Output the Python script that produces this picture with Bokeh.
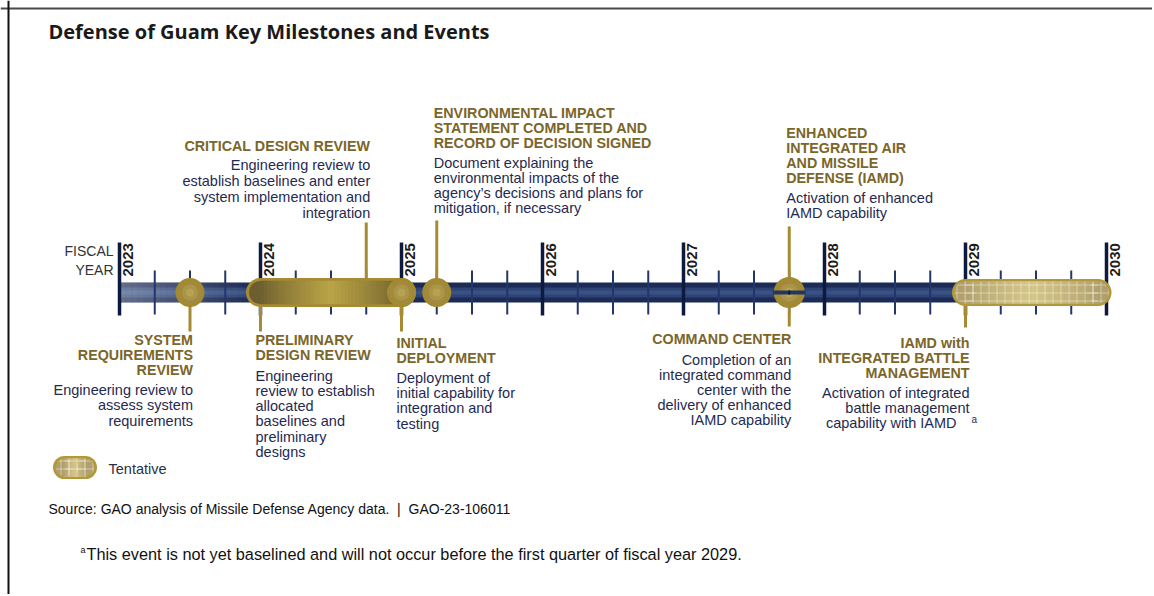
import numpy as np
from bokeh.plotting import figure
from bokeh.models import Range1d, Span
from bokeh.core.properties import value
from bokeh.embed import file_html
from bokeh.resources import INLINE

# ---------------- data ----------------
years = [2023, 2024, 2025, 2026, 2027, 2028, 2029, 2030]
year_labels = [str(y) for y in years]
quarter_ticks = [y + q for y in years[:-1] for q in (0.25, 0.5, 0.75)]

# single milestones (circles)
milestone_dates = [2023.5, 2025.0, 2025.25]
# split milestone (two events on same date)
split_dates = [2027.75]
# period bars
pdr_span = [2024.0, 2025.0]
tentative_span = [2029.0, 2029.94]

event_keys = ["SRR", "PDR", "CDR", "ID", "EIS", "EIAMD", "CC", "IBM"]
event_dates = [2023.5, 2024.0, 2024.75, 2025.0, 2025.25, 2027.75, 2027.75, 2029.0]
event_titles = [
    ["SYSTEM", "REQUIREMENTS", "REVIEW"],
    ["PRELIMINARY", "DESIGN REVIEW"],
    ["CRITICAL DESIGN REVIEW"],
    ["INITIAL", "DEPLOYMENT"],
    ["ENVIRONMENTAL IMPACT", "STATEMENT COMPLETED AND", "RECORD OF DECISION SIGNED"],
    ["ENHANCED", "INTEGRATED AIR", "AND MISSILE", "DEFENSE (IAMD)"],
    ["COMMAND CENTER"],
    ["IAMD with", "INTEGRATED BATTLE", "MANAGEMENT"],
]
event_descs = [
    ["Engineering review to", "assess system", "requirements"],
    ["Engineering", "review to establish", "allocated", "baselines and", "preliminary", "designs"],
    ["Engineering review to", "establish baselines and enter", "system implementation and", "integration"],
    ["Deployment of", "initial capability for", "integration and", "testing"],
    ["Document explaining the", "environmental impacts of the",
     "agency\u2019s decisions and plans for", "mitigation, if necessary"],
    ["Activation of enhanced", "IAMD capability"],
    ["Completion of an", "integrated command", "center with the", "delivery of enhanced", "IAMD capability"],
    ["Activation of integrated", "battle management", "capability with IAMD"],
]

title_text = "Defense of Guam Key Milestones and Events"
source_text = "Source: GAO analysis of Missile Defense Agency data.\u00a0\u00a0|\u00a0\u00a0GAO-23-106011"
note_text = "This event is not yet baselined and will not occur before the first quarter of fiscal year 2029."

# ---------------- layout / style ----------------
W, H = 1152, 594
PPY = 141.0                       # pixels per fiscal year
X0 = 2023 - 119 / PPY             # x-range start so 2023 sits at page x 119
X1 = X0 + W / PPY

def sx(page_x):
    return X0 + page_x / PPY

# per-event label layout: (align, x_offset, title_y0, title_lh, desc_y0, desc_lh, leader_end)
layout = {
    "SRR":   ("right",  3, 339, 15, 389, 15.5, 331),
    "PDR":   ("left",  -5, 339, 15, 375, 15.3, 331),
    "CDR":   ("right",  4, 145, 15, 164, 16.0, 222),
    "ID":    ("left",  -5, 342, 15, 377, 15.4, 331),
    "EIS":   ("left",  -3, 112, 15, 162, 15.0, 220),
    "EIAMD": ("left",  -3, 132, 15.3, 197, 15.0, 226),
    "CC":    ("right",  2, 338, 15, 359, 15.2, 326),
    "IBM":   ("right",  4, 342, 15, 392, 15.0, 327),
}

SANS = value("'Liberation Sans', Arial, sans-serif")
GOLD_TXT = "#7b6629"
NAVY_TXT = "#1f2a52"
GOLD = "#a68b34"
NAVY = "#1b2a57"
YC = 292

p = figure(width=W, height=H, x_range=Range1d(X0, X1), y_range=Range1d(H, 0),
           output_backend="svg", toolbar_location=None, min_border=0,
           background_fill_color="white", border_fill_color="white")
p.outline_line_color = None
p.axis.visible = False
p.grid.visible = False

# frame lines (top and left)
p.add_layout(Span(location=8, dimension="width", line_color="#4a4a4a", line_width=2))
p.add_layout(Span(location=sx(8), dimension="height", line_color="#111111", line_width=2))

def hex2rgb(h):
    h = h.lstrip("#")
    return np.array([int(h[i:i + 2], 16) for i in (0, 2, 4)], dtype=float)

def mix(c1, c2, t):
    c = hex2rgb(c1) * (1 - t) + hex2rgb(c2) * t
    return "#%02x%02x%02x" % tuple(int(round(v)) for v in c)

# ---------------- timeline bar ----------------
p.quad(left=years[0], right=years[-1], top=YC - 10, bottom=YC + 10, fill_color=NAVY, line_color=None)
p.quad(left=years[0], right=years[-1], top=YC - 5, bottom=YC + 5, fill_color="#2d4474", line_color=None)
p.quad(left=years[0], right=years[-1], top=YC - 2, bottom=YC + 2, fill_color="#3a5283", line_color=None)
# faded start of the bar (first fiscal year)
n = 24
edges = np.linspace(years[0], years[1], n + 1)
p.quad(left=edges[:-1], right=edges[1:], top=YC - 10, bottom=YC + 10,
       fill_color="white", fill_alpha=list(np.linspace(0.32, 0.0, n)), line_color=None)

# ticks
p.segment(x0=quarter_ticks, y0=[270] * len(quarter_ticks), x1=quarter_ticks, y1=[314] * len(quarter_ticks),
          line_color="#233669", line_width=2)
p.segment(x0=years, y0=[242] * len(years), x1=years, y1=[315] * len(years),
          line_color="#0d1a40", line_width=3.5)
p.text(x=years, y=[276] * len(years), text=year_labels, angle=np.pi / 2, x_offset=3,
       text_align="left", text_baseline="top", text_font=SANS, text_font_style="bold",
       text_font_size="15px", text_color="#1c1c1c")
p.text(x=[years[0]] * 2, y=[250, 269], text=["FISCAL", "YEAR"], x_offset=-6,
       text_align="right", text_baseline="middle", text_font=SANS, text_font_size="14px",
       text_color="#333333")

# leader lines
for key, d in zip(event_keys, event_dates):
    lend = layout[key][6]
    p.segment(x0=[d], y0=[YC], x1=[d], y1=[lend], line_color=GOLD, line_width=3)

# ---------------- capsules ----------------
def capsule(xa, xb, yc, h, border, c_edge, c_mid, bw, hatch=False):
    p.scatter([xa, xb], [yc, yc], size=h, marker="circle", fill_color=border, line_color=None)
    p.quad(left=xa, right=xb, top=yc - h / 2, bottom=yc + h / 2, fill_color=border, line_color=None)
    ih = h - 2 * bw
    p.scatter([xa, xb], [yc, yc], size=ih, marker="circle", fill_color=c_edge, line_color=None)
    m = 40
    e = np.linspace(xa, xb, m + 1)
    t = 1 - np.abs((e[:-1] + e[1:]) / 2 - (xa + xb) / 2) / ((xb - xa) / 2)
    cols = [mix(c_edge, c_mid, float(v) ** 0.8) for v in t]
    p.quad(left=e[:-1], right=e[1:], top=yc - ih / 2, bottom=yc + ih / 2, fill_color=cols,
           line_color=cols, line_width=0.6)
    if hatch:
        p.quad(left=xa, right=xb, top=yc - ih / 2, bottom=yc + ih / 2, fill_alpha=0, line_color=None,
               hatch_pattern="+", hatch_color="white", hatch_alpha=0.4, hatch_scale=8, hatch_weight=1)
        p.scatter([xa, xb], [yc, yc], size=ih, marker="circle", fill_alpha=0, line_color=None,
                  hatch_pattern="+", hatch_color="white", hatch_alpha=0.4, hatch_scale=8, hatch_weight=1)

capsule(pdr_span[0], pdr_span[1], YC, 29, "#a68b34", "#6c5e2f", "#baa446", 3)
capsule(tentative_span[0], tentative_span[1], YC, 27, "#b39838", "#b1a06c", "#d6c689", 2.5, hatch=True)

# ---------------- milestones ----------------
def medallion(xs, size=29):
    p.scatter(xs, [YC] * len(xs), size=size, marker="circle", fill_color="#a3892f", line_color=None)
    p.scatter(xs, [YC] * len(xs), size=size - 6, marker="circle", fill_color="#a18a3d", line_color=None)
    p.scatter(xs, [YC] * len(xs), size=size - 13, marker="circle", fill_color="#ab9546", line_color=None)
    p.scatter(xs, [YC] * len(xs), size=size - 21, marker="circle", fill_color="#b6a253", line_color=None)

medallion(milestone_dates)
medallion(split_dates, size=31)
p.rect(x=split_dates, y=[YC] * len(split_dates), width=33, height=4, width_units="screen",
       fill_color="#24365f", line_color=None)
p.segment(x0=split_dates, y0=[YC - 2] * len(split_dates), x1=split_dates, y1=[YC + 2] * len(split_dates),
          line_color="#0d1a40", line_width=2)

# ---------------- labels ----------------
for key, d, tl, dl in zip(event_keys, event_dates, event_titles, event_descs):
    align, xo, ty, tlh, dy, dlh, _ = layout[key]
    p.text(x=[d] * len(tl), y=[ty + i * tlh for i in range(len(tl))], text=tl, x_offset=xo,
           text_align=align, text_baseline="middle", text_font=SANS, text_font_style="bold",
           text_font_size="14.3px", text_color=GOLD_TXT)
    dl_xo = [xo] * len(dl)
    if key == "IBM":
        dl_xo[-1] = xo - 13
    p.text(x=[d] * len(dl), y=[dy + i * dlh for i in range(len(dl))], text=dl, x_offset=dl_xo,
           text_align=align, text_baseline="middle", text_font=SANS, text_font_size="14.5px",
           text_color=NAVY_TXT)

# footnote marker on IBM
ibm = event_keys.index("IBM")
p.text(x=[event_dates[ibm]], y=[419], text=["a"], x_offset=6, text_align="left",
       text_baseline="middle", text_font=SANS, text_font_size="10px", text_color=NAVY_TXT)

# ---------------- legend ----------------
capsule(sx(64), sx(85), 467, 23, "#b39838", "#b1a06c", "#d6c689", 2.5, hatch=True)
p.text(x=[sx(108)], y=[468], text=["Tentative"], text_align="left", text_baseline="middle",
       text_font=SANS, text_font_size="14.5px", text_color="#2a2f45")

# ---------------- title / source / note ----------------
p.text(x=[sx(48)], y=[31], text=[title_text], text_align="left", text_baseline="middle",
       text_font=value("Open Sans"), text_font_style="bold", text_font_size="20px", text_color="#1a1a1a")
p.text(x=[sx(48)], y=[508], text=[source_text], text_align="left", text_baseline="middle",
       text_font=SANS, text_font_size="14px", text_color="#111111")
p.text(x=[sx(80)], y=[549], text=["a"], text_align="left", text_baseline="middle",
       text_font=SANS, text_font_size="9px", text_color="#111111")
p.text(x=[sx(86)], y=[553], text=[note_text], text_align="left", text_baseline="middle",
       text_font=SANS, text_font_size="16.3px", text_color="#111111")

open("out.html", "w").write(file_html(p, INLINE))
